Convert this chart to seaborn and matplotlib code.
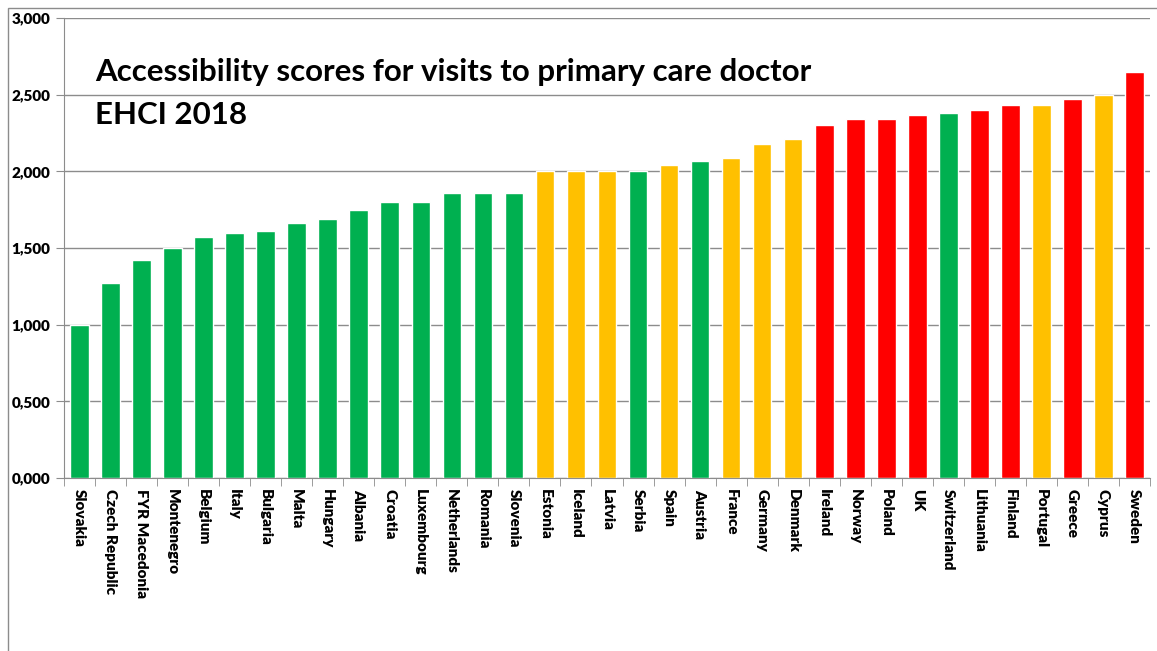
import matplotlib
matplotlib.use("Agg")
import matplotlib.pyplot as plt
import matplotlib.patches as patches
import seaborn as sns
import pandas as pd
from matplotlib import ticker

countries = ["Slovakia", "Czech Republic", "FYR Macedonia", "Montenegro", "Belgium",
             "Italy", "Bulgaria", "Malta", "Hungary", "Albania", "Croatia",
             "Luxembourg", "Netherlands", "Romania", "Slovenia", "Estonia", "Iceland",
             "Latvia", "Serbia", "Spain", "Austria", "France", "Germany", "Denmark",
             "Ireland", "Norway", "Poland", "UK", "Switzerland", "Lithuania",
             "Finland", "Portugal", "Greece", "Cyprus", "Sweden"]
scores = [1.000, 1.27, 1.42, 1.50, 1.57,
          1.60, 1.61, 1.66, 1.69, 1.75, 1.80,
          1.80, 1.86, 1.86, 1.86, 2.00, 2.00,
          2.00, 2.00, 2.04, 2.07, 2.09, 2.18, 2.21,
          2.30, 2.34, 2.34, 2.37, 2.38, 2.40,
          2.43, 2.43, 2.47, 2.50, 2.65]
groups = ["g", "g", "g", "g", "g",
          "g", "g", "g", "g", "g", "g",
          "g", "g", "g", "g", "y", "y",
          "y", "g", "y", "g", "y", "y", "y",
          "r", "r", "r", "r", "g", "r",
          "r", "y", "r", "y", "r"]
group_colors = {"g": "#00B050", "y": "#FFC000", "r": "#FF0000"}

df = pd.DataFrame({"country": countries, "score": scores, "group": groups})

sns.set_style("white")
plt.rcParams['font.family'] = ['Lato', 'DejaVu Sans']
plt.rcParams['text.color'] = 'black'
plt.rcParams['xtick.labelcolor'] = 'black'
plt.rcParams['ytick.labelcolor'] = 'black'

fig = plt.figure(figsize=(11.57, 6.51), dpi=100)
ax = fig.add_axes([64/1157, 1-478/651, (1150-64)/1157, (478-18)/651])

sns.barplot(data=df, x="country", y="score", hue="group", palette=group_colors,
            order=countries, dodge=False, width=0.6, legend=False, ax=ax, saturation=1)

ax.set_ylim(0, 3)
ax.set_xlim(-0.5, len(countries)-0.5)
ax.yaxis.set_major_locator(ticker.MultipleLocator(0.5))
ax.yaxis.set_major_formatter(ticker.FuncFormatter(lambda v, p: f"{v:.3f}".replace(".", ",")))
ax.grid(axis="y", color="#8c8c8c", linewidth=1)
ax.set_axisbelow(True)

for s in ["top", "right"]:
    ax.spines[s].set_visible(False)
ax.spines["left"].set_color("#8c8c8c")
ax.spines["bottom"].set_color("#8c8c8c")

ax.set_xticks([i - 0.5 for i in range(len(countries)+1)], minor=True)
ax.set_xticks(range(len(countries)))
ax.set_xticklabels(countries, rotation=-90, fontsize=11, fontweight="heavy", va="top", ha="center")
ax.tick_params(axis="x", which="major", length=0, pad=8)
ax.tick_params(axis="x", which="minor", length=6, color="#8c8c8c", direction="out", bottom=True)
ax.tick_params(axis="y", length=6, color="#8c8c8c", direction="out", left=True,
               labelsize=11, pad=4)
for lab in ax.get_yticklabels():
    lab.set_fontweight("heavy")
ax.set_xlabel("")
ax.set_ylabel("")

ax.text((95-64)/1086, 1 - (72-18)/460, "Accessibility scores for visits to primary care doctor",
        transform=ax.transAxes, fontsize=22.5, fontweight="bold", va="center", ha="left",
        color="black")
ax.text((95-64)/1086, 1 - (115-18)/460, "EHCI 2018",
        transform=ax.transAxes, fontsize=22.5, fontweight="bold", va="center", ha="left",
        color="black")

fig.add_artist(patches.Rectangle((8/1157, -0.1), 1.2, 1.1 - 8/651, transform=fig.transFigure,
                                 fill=False, edgecolor="#8c8c8c", linewidth=1))

fig.savefig("out.png", dpi=100)
